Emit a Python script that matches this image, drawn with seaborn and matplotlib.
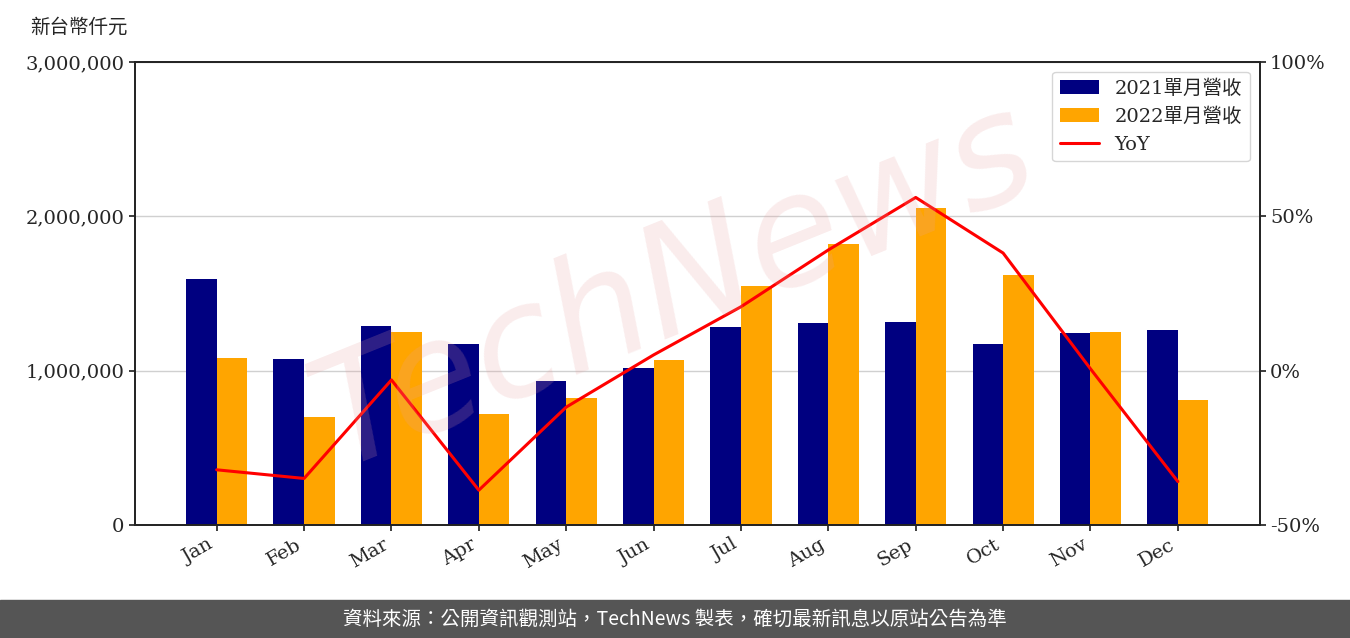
import matplotlib
matplotlib.use("Agg")
import matplotlib.pyplot as plt
import seaborn as sns
import numpy as np
import pandas as pd
from matplotlib.ticker import FuncFormatter

months = ["Jan","Feb","Mar","Apr","May","Jun","Jul","Aug","Sep","Oct","Nov","Dec"]
rev2021 = [1594000,1076000,1290000,1173000,933000,1017000,1283000,1309000,1316000,1173000,1244000,1264000]
rev2022 = [1082000,700000,1251000,719000,823000,1069000,1549000,1821000,2054000,1620000,1251000,810000]
yoy = [-32.1,-34.9,-3.0,-38.7,-11.8,5.1,20.7,39.1,56.1,38.1,0.6,-35.9]

sns.set_theme(style="white")
plt.rcParams['font.family'] = ['DejaVu Serif', 'Noto Sans CJK TC']

df = pd.DataFrame({"month": months*2, "rev": rev2021+rev2022,
                   "series": ["2021單月營收"]*12 + ["2022單月營收"]*12})

fig = plt.figure(figsize=(13.5, 6.38), dpi=100)
ax = fig.add_axes([0.1, 0.177, 0.833, 0.726])
sns.barplot(data=df, x="month", y="rev", hue="series", palette=["#000080", "#FFA500"],
            width=0.7, ax=ax, saturation=1, linewidth=0, edgecolor="none")
ax.set_ylim(0, 3000000)
ax.set_yticks([0, 1000000, 2000000, 3000000])
ax.yaxis.set_major_formatter(FuncFormatter(lambda v, p: f"{int(v):,}"))
ax.yaxis.grid(True, color="#d0d0d0", lw=1)
ax.set_axisbelow(True)
ax.set_xlabel(""); ax.set_ylabel("")
ax.tick_params(axis="both", labelsize=14, length=4, left=True, bottom=True)
plt.setp(ax.get_xticklabels(), rotation=30, ha="right")
for s in ax.spines.values():
    s.set_color("black"); s.set_linewidth(1.2)

ax2 = ax.twinx()
ax2.plot(np.arange(12), yoy, color="red", lw=2.2, label="YoY")
ax2.set_ylim(-50, 100)
ax2.set_yticks([-50, 0, 50, 100])
ax2.yaxis.set_major_formatter(FuncFormatter(lambda v, p: f"{int(v)}%"))
ax2.tick_params(axis="y", labelsize=14, length=4, right=True)
ax2.grid(False)

h1, l1 = ax.get_legend_handles_labels()
h2, l2 = ax2.get_legend_handles_labels()
ax.get_legend().remove()
ax2.legend(h1+h2, l1+l2, loc="upper right", fontsize=14, frameon=True, edgecolor="#cccccc")

fig.text(30/1350, 1-27/638, "新台幣仟元", fontsize=14, va="center", ha="left")
fig.text(0.5, 0.55, "TechNews", fontsize=110, color="#e8a0a0", alpha=0.2, rotation=22,
         ha="center", va="center", family="DejaVu Sans", style="italic", zorder=0)

fig.patches.append(plt.Rectangle((0, 0), 1, 38/638, transform=fig.transFigure,
                                 color="#555555", zorder=0))
fig.text(0.5, 19/638, "資料來源：公開資訊觀測站，TechNews 製表，確切最新訊息以原站公告為準",
         color="white", fontsize=14, ha="center", va="center",
         family=["Noto Sans CJK TC", "DejaVu Sans"])

fig.savefig("out.png", dpi=100)
